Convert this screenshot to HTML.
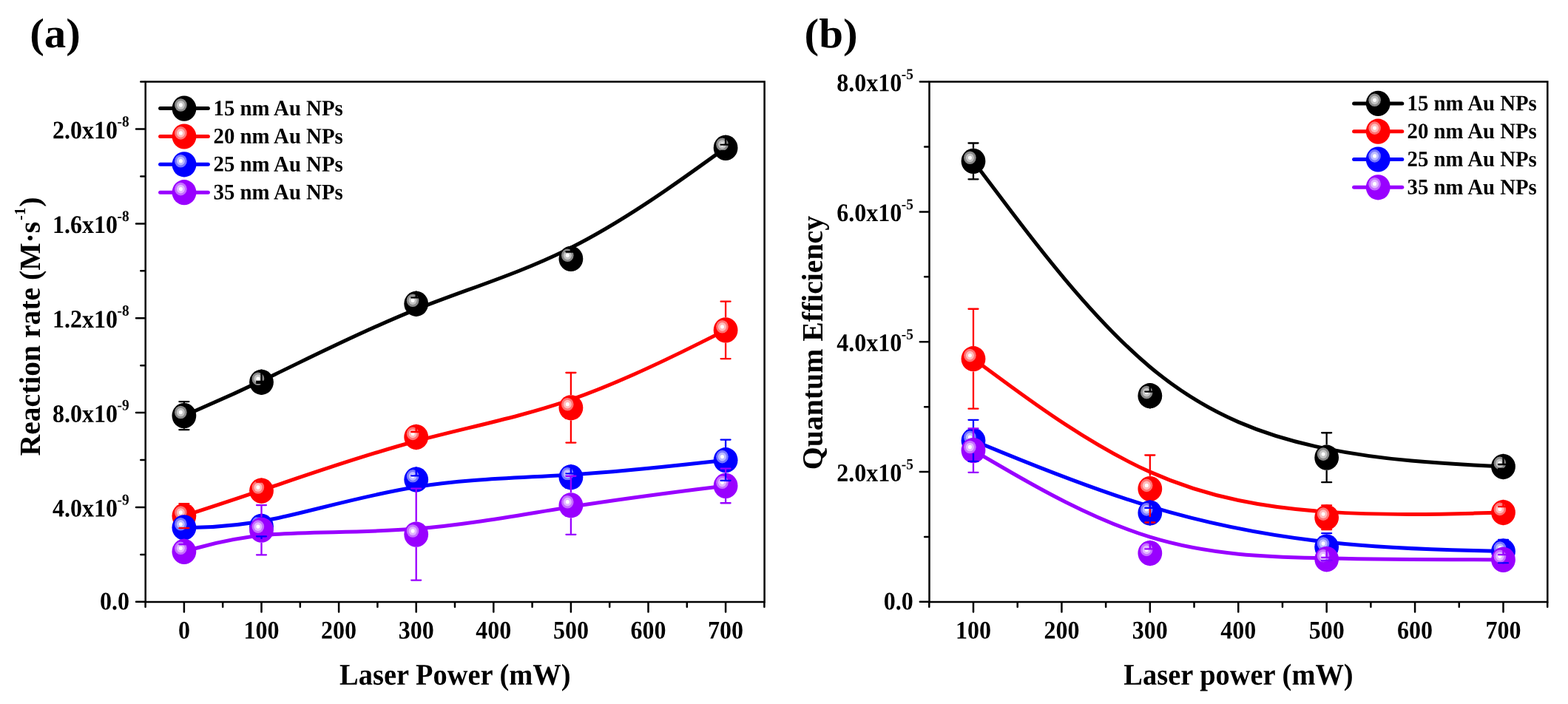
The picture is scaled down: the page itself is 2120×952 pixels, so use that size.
<!DOCTYPE html>
<html lang="en"><head><meta charset="utf-8"><title>Reaction rate and quantum efficiency vs laser power</title>
<style>html,body{margin:0;padding:0;background:#fff}body{width:2120px;height:952px;overflow:hidden}svg{display:block}</style>
</head><body>
<svg width="2120" height="952" viewBox="0 0 2120 952" font-family='"Liberation Serif", "DejaVu Serif", serif' font-weight="bold" fill="#000">
<rect width="2120" height="952" fill="#fff"/>
<g stroke="#000" stroke-width="2.5" stroke-linecap="round" fill="none">
<path d="M196.7 110.6H1033.6V814H196.7Z" stroke-linejoin="miter"/>
<path d="M248.9 815v12.4M353.5 815v12.4M458.1 815v12.4M562.7 815v12.4M667.3 815v12.4M771.9 815v12.4M876.5 815v12.4M981.1 815v12.4M196.6 815v5.8M301.2 815v5.8M405.8 815v5.8M510.4 815v5.8M615 815v5.8M719.6 815v5.8M824.2 815v5.8M928.8 815v5.8M1033.4 815v5.8M195.7 813.85h-11.7M195.7 685.99h-11.7M195.7 558.12h-11.7M195.7 430.26h-11.7M195.7 302.39h-11.7M195.7 174.53h-11.7M195.7 749.92h-5.4M195.7 622.05h-5.4M195.7 494.19h-5.4M195.7 366.33h-5.4M195.7 238.46h-5.4M195.7 110.6h-5.4"/>
</g>
<text transform="translate(248.9 863.6) rotate(0.03) scale(1 1.07)" font-size="32" text-anchor="middle">0</text>
<text transform="translate(353.5 863.6) rotate(0.03) scale(1 1.07)" font-size="32" text-anchor="middle">100</text>
<text transform="translate(458.1 863.6) rotate(0.03) scale(1 1.07)" font-size="32" text-anchor="middle">200</text>
<text transform="translate(562.7 863.6) rotate(0.03) scale(1 1.07)" font-size="32" text-anchor="middle">300</text>
<text transform="translate(667.3 863.6) rotate(0.03) scale(1 1.07)" font-size="32" text-anchor="middle">400</text>
<text transform="translate(771.9 863.6) rotate(0.03) scale(1 1.07)" font-size="32" text-anchor="middle">500</text>
<text transform="translate(876.5 863.6) rotate(0.03) scale(1 1.07)" font-size="32" text-anchor="middle">600</text>
<text transform="translate(981.1 863.6) rotate(0.03) scale(1 1.07)" font-size="32" text-anchor="middle">700</text>
<text transform="translate(175 824.15) rotate(0.03) scale(1 1.07)" font-size="32" text-anchor="end">0.0</text>
<text transform="translate(174.58 698.64) rotate(0.03) scale(1 1.07)" font-size="32" text-anchor="end">4.0x10<tspan font-size="19.3" dx="-0.5" dy="-15.09">-9</tspan></text>
<text transform="translate(174.58 570.77) rotate(0.03) scale(1 1.07)" font-size="32" text-anchor="end">8.0x10<tspan font-size="19.3" dx="-0.5" dy="-15.09">-9</tspan></text>
<text transform="translate(174.58 442.91) rotate(0.03) scale(1 1.07)" font-size="32" text-anchor="end">1.2x10<tspan font-size="19.3" dx="-0.5" dy="-15.09">-8</tspan></text>
<text transform="translate(174.58 315.04) rotate(0.03) scale(1 1.07)" font-size="32" text-anchor="end">1.6x10<tspan font-size="19.3" dx="-0.5" dy="-15.09">-8</tspan></text>
<text transform="translate(174.58 187.18) rotate(0.03) scale(1 1.07)" font-size="32" text-anchor="end">2.0x10<tspan font-size="19.3" dx="-0.5" dy="-15.09">-8</tspan></text>
<path d="M248.9 562.1C248.9 562.1 248.9 562.1 266.33 554.55C283.77 547 318.63 531.9 370.93 506.68C423.23 481.47 492.97 446.13 562.7 418.32C632.43 390.5 702.17 370.2 771.9 335.05C841.63 299.9 911.37 249.9 946.23 224.9C981.1 199.9 981.1 199.9 981.1 199.9" stroke="#000000" stroke-width="5.0" fill="none" stroke-linecap="round"/>
<ellipse cx="248.9" cy="562.1" rx="16.4" ry="17.1" fill="#000000"/>
<ellipse cx="244.3" cy="557.5" rx="8.3" ry="8.8" fill="#8a8a8a"/>
<ellipse cx="244.3" cy="557.5" rx="5.5" ry="5.85" fill="#c4c4c4"/>
<ellipse cx="244.3" cy="557.5" rx="2.5" ry="2.65" fill="#ffffff"/>
<ellipse cx="353.5" cy="516.8" rx="16.4" ry="17.1" fill="#000000"/>
<ellipse cx="348.9" cy="512.2" rx="8.3" ry="8.8" fill="#8a8a8a"/>
<ellipse cx="348.9" cy="512.2" rx="5.5" ry="5.85" fill="#c4c4c4"/>
<ellipse cx="348.9" cy="512.2" rx="2.5" ry="2.65" fill="#ffffff"/>
<ellipse cx="562.7" cy="410.8" rx="16.4" ry="17.1" fill="#000000"/>
<ellipse cx="558.1" cy="406.2" rx="8.3" ry="8.8" fill="#8a8a8a"/>
<ellipse cx="558.1" cy="406.2" rx="5.5" ry="5.85" fill="#c4c4c4"/>
<ellipse cx="558.1" cy="406.2" rx="2.5" ry="2.65" fill="#ffffff"/>
<ellipse cx="771.9" cy="349.9" rx="16.4" ry="17.1" fill="#000000"/>
<ellipse cx="767.3" cy="345.3" rx="8.3" ry="8.8" fill="#8a8a8a"/>
<ellipse cx="767.3" cy="345.3" rx="5.5" ry="5.85" fill="#c4c4c4"/>
<ellipse cx="767.3" cy="345.3" rx="2.5" ry="2.65" fill="#ffffff"/>
<ellipse cx="981.1" cy="199.9" rx="16.4" ry="17.1" fill="#000000"/>
<ellipse cx="976.5" cy="195.3" rx="8.3" ry="8.8" fill="#8a8a8a"/>
<ellipse cx="976.5" cy="195.3" rx="5.5" ry="5.85" fill="#c4c4c4"/>
<ellipse cx="976.5" cy="195.3" rx="2.5" ry="2.65" fill="#ffffff"/>
<path d="M248.9 697.6C248.9 697.6 248.9 697.6 266.33 691.93C283.77 686.27 318.63 674.93 370.93 657.17C423.23 639.4 492.97 615.2 562.7 596.48C632.43 577.77 702.17 564.53 771.9 540.43C841.63 516.33 911.37 481.37 946.23 463.88C981.1 446.4 981.1 446.4 981.1 446.4" stroke="#ff0000" stroke-width="5.0" fill="none" stroke-linecap="round"/>
<ellipse cx="248.9" cy="697.6" rx="16.4" ry="17.1" fill="#ff0000"/>
<ellipse cx="244.3" cy="693" rx="8.3" ry="8.8" fill="#ff7474"/>
<ellipse cx="244.3" cy="693" rx="5.5" ry="5.85" fill="#ffbcbc"/>
<ellipse cx="244.3" cy="693" rx="2.5" ry="2.65" fill="#ffffff"/>
<ellipse cx="353.5" cy="663.6" rx="16.4" ry="17.1" fill="#ff0000"/>
<ellipse cx="348.9" cy="659" rx="8.3" ry="8.8" fill="#ff7474"/>
<ellipse cx="348.9" cy="659" rx="5.5" ry="5.85" fill="#ffbcbc"/>
<ellipse cx="348.9" cy="659" rx="2.5" ry="2.65" fill="#ffffff"/>
<ellipse cx="562.7" cy="591" rx="16.4" ry="17.1" fill="#ff0000"/>
<ellipse cx="558.1" cy="586.4" rx="8.3" ry="8.8" fill="#ff7474"/>
<ellipse cx="558.1" cy="586.4" rx="5.5" ry="5.85" fill="#ffbcbc"/>
<ellipse cx="558.1" cy="586.4" rx="2.5" ry="2.65" fill="#ffffff"/>
<ellipse cx="771.9" cy="551.3" rx="16.4" ry="17.1" fill="#ff0000"/>
<ellipse cx="767.3" cy="546.7" rx="8.3" ry="8.8" fill="#ff7474"/>
<ellipse cx="767.3" cy="546.7" rx="5.5" ry="5.85" fill="#ffbcbc"/>
<ellipse cx="767.3" cy="546.7" rx="2.5" ry="2.65" fill="#ffffff"/>
<ellipse cx="981.1" cy="446.4" rx="16.4" ry="17.1" fill="#ff0000"/>
<ellipse cx="976.5" cy="441.8" rx="8.3" ry="8.8" fill="#ff7474"/>
<ellipse cx="976.5" cy="441.8" rx="5.5" ry="5.85" fill="#ffbcbc"/>
<ellipse cx="976.5" cy="441.8" rx="2.5" ry="2.65" fill="#ffffff"/>
<path d="M248.9 713.4C248.9 713.4 248.9 713.4 266.33 713.13C283.77 712.87 318.63 712.33 370.93 701.52C423.23 690.7 492.97 669.6 562.7 658.52C632.43 647.43 702.17 646.37 771.9 641.98C841.63 637.6 911.37 629.9 946.23 626.05C981.1 622.2 981.1 622.2 981.1 622.2" stroke="#0000ff" stroke-width="5.0" fill="none" stroke-linecap="round"/>
<ellipse cx="248.9" cy="713.4" rx="16.4" ry="17.1" fill="#0000ff"/>
<ellipse cx="244.3" cy="708.8" rx="8.3" ry="8.8" fill="#7878ff"/>
<ellipse cx="244.3" cy="708.8" rx="5.5" ry="5.85" fill="#bcbcff"/>
<ellipse cx="244.3" cy="708.8" rx="2.5" ry="2.65" fill="#ffffff"/>
<ellipse cx="353.5" cy="711.8" rx="16.4" ry="17.1" fill="#0000ff"/>
<ellipse cx="348.9" cy="707.2" rx="8.3" ry="8.8" fill="#7878ff"/>
<ellipse cx="348.9" cy="707.2" rx="5.5" ry="5.85" fill="#bcbcff"/>
<ellipse cx="348.9" cy="707.2" rx="2.5" ry="2.65" fill="#ffffff"/>
<ellipse cx="562.7" cy="648.5" rx="16.4" ry="17.1" fill="#0000ff"/>
<ellipse cx="558.1" cy="643.9" rx="8.3" ry="8.8" fill="#7878ff"/>
<ellipse cx="558.1" cy="643.9" rx="5.5" ry="5.85" fill="#bcbcff"/>
<ellipse cx="558.1" cy="643.9" rx="2.5" ry="2.65" fill="#ffffff"/>
<ellipse cx="771.9" cy="645.3" rx="16.4" ry="17.1" fill="#0000ff"/>
<ellipse cx="767.3" cy="640.7" rx="8.3" ry="8.8" fill="#7878ff"/>
<ellipse cx="767.3" cy="640.7" rx="5.5" ry="5.85" fill="#bcbcff"/>
<ellipse cx="767.3" cy="640.7" rx="2.5" ry="2.65" fill="#ffffff"/>
<ellipse cx="981.1" cy="622.2" rx="16.4" ry="17.1" fill="#0000ff"/>
<ellipse cx="976.5" cy="617.6" rx="8.3" ry="8.8" fill="#7878ff"/>
<ellipse cx="976.5" cy="617.6" rx="5.5" ry="5.85" fill="#bcbcff"/>
<ellipse cx="976.5" cy="617.6" rx="2.5" ry="2.65" fill="#ffffff"/>
<path d="M248.9 745.9C248.9 745.9 248.9 745.9 266.33 741.03C283.77 736.17 318.63 726.43 370.93 722.55C423.23 718.67 492.97 720.63 562.7 715.07C632.43 709.5 702.17 696.4 771.9 685.45C841.63 674.5 911.37 665.7 946.23 661.3C981.1 656.9 981.1 656.9 981.1 656.9" stroke="#9900ff" stroke-width="5.0" fill="none" stroke-linecap="round"/>
<ellipse cx="248.9" cy="745.9" rx="16.4" ry="17.1" fill="#9900ff"/>
<ellipse cx="244.3" cy="741.3" rx="8.3" ry="8.8" fill="#c670ff"/>
<ellipse cx="244.3" cy="741.3" rx="5.5" ry="5.85" fill="#e2b8ff"/>
<ellipse cx="244.3" cy="741.3" rx="2.5" ry="2.65" fill="#ffffff"/>
<ellipse cx="353.5" cy="716.7" rx="16.4" ry="17.1" fill="#9900ff"/>
<ellipse cx="348.9" cy="712.1" rx="8.3" ry="8.8" fill="#c670ff"/>
<ellipse cx="348.9" cy="712.1" rx="5.5" ry="5.85" fill="#e2b8ff"/>
<ellipse cx="348.9" cy="712.1" rx="2.5" ry="2.65" fill="#ffffff"/>
<ellipse cx="562.7" cy="722.6" rx="16.4" ry="17.1" fill="#9900ff"/>
<ellipse cx="558.1" cy="718" rx="8.3" ry="8.8" fill="#c670ff"/>
<ellipse cx="558.1" cy="718" rx="5.5" ry="5.85" fill="#e2b8ff"/>
<ellipse cx="558.1" cy="718" rx="2.5" ry="2.65" fill="#ffffff"/>
<ellipse cx="771.9" cy="683.3" rx="16.4" ry="17.1" fill="#9900ff"/>
<ellipse cx="767.3" cy="678.7" rx="8.3" ry="8.8" fill="#c670ff"/>
<ellipse cx="767.3" cy="678.7" rx="5.5" ry="5.85" fill="#e2b8ff"/>
<ellipse cx="767.3" cy="678.7" rx="2.5" ry="2.65" fill="#ffffff"/>
<ellipse cx="981.1" cy="656.9" rx="16.4" ry="17.1" fill="#9900ff"/>
<ellipse cx="976.5" cy="652.3" rx="8.3" ry="8.8" fill="#c670ff"/>
<ellipse cx="976.5" cy="652.3" rx="5.5" ry="5.85" fill="#e2b8ff"/>
<ellipse cx="976.5" cy="652.3" rx="2.5" ry="2.65" fill="#ffffff"/>
<path d="M242.4 543.05H255.4M242.4 581.15H255.4" stroke="#000000" stroke-width="2.3" fill="none" stroke-linecap="round"/>
<path d="M248.9 543.05V544.9M248.9 581.15V579.3" stroke="#000000" stroke-width="2.3" fill="none"/>
<path d="M347 515.8H360M347 517.8H360" stroke="#000000" stroke-width="2.3" fill="none" stroke-linecap="round"/>
<path d="M353.5 515.8V499.6M353.5 517.8V534" stroke="#000000" stroke-width="2.3" fill="none"/>
<path d="M556.2 402.4H569.2M556.2 419.2H569.2" stroke="#000000" stroke-width="2.3" fill="none" stroke-linecap="round"/>
<path d="M562.7 402.4V393.6M562.7 419.2V428" stroke="#000000" stroke-width="2.3" fill="none"/>
<path d="M765.4 340.5H778.4M765.4 359.3H778.4" stroke="#000000" stroke-width="2.3" fill="none" stroke-linecap="round"/>
<path d="M771.9 340.5V332.7M771.9 359.3V367.1" stroke="#000000" stroke-width="2.3" fill="none"/>
<path d="M974.6 195.7H987.6M974.6 204.1H987.6" stroke="#000000" stroke-width="2.3" fill="none" stroke-linecap="round"/>
<path d="M981.1 195.7V182.7M981.1 204.1V217.1" stroke="#000000" stroke-width="2.3" fill="none"/>
<path d="M242.4 681.1H255.4M242.4 714.1H255.4" stroke="#ff0000" stroke-width="2.3" fill="none" stroke-linecap="round"/>
<path d="M248.9 681.1V680.4M248.9 714.1V714.8" stroke="#ff0000" stroke-width="2.3" fill="none"/>
<path d="M347 651.6H360M347 675.6H360" stroke="#ff0000" stroke-width="2.3" fill="none" stroke-linecap="round"/>
<path d="M353.5 651.6V646.4M353.5 675.6V680.8" stroke="#ff0000" stroke-width="2.3" fill="none"/>
<path d="M556.2 584H569.2M556.2 598H569.2" stroke="#ff0000" stroke-width="2.3" fill="none" stroke-linecap="round"/>
<path d="M562.7 584V573.8M562.7 598V608.2" stroke="#ff0000" stroke-width="2.3" fill="none"/>
<path d="M765.4 504H778.4M765.4 598.6H778.4" stroke="#ff0000" stroke-width="2.3" fill="none" stroke-linecap="round"/>
<path d="M771.9 504V534.1M771.9 598.6V568.5" stroke="#ff0000" stroke-width="2.3" fill="none"/>
<path d="M974.6 407.7H987.6M974.6 485.1H987.6" stroke="#ff0000" stroke-width="2.3" fill="none" stroke-linecap="round"/>
<path d="M981.1 407.7V429.2M981.1 485.1V463.6" stroke="#ff0000" stroke-width="2.3" fill="none"/>
<path d="M347 698.3H360M347 725.3H360" stroke="#0000ff" stroke-width="2.3" fill="none" stroke-linecap="round"/>
<path d="M353.5 698.3V694.6M353.5 725.3V729" stroke="#0000ff" stroke-width="2.3" fill="none"/>
<path d="M556.2 643.3H569.2M556.2 653.7H569.2" stroke="#0000ff" stroke-width="2.3" fill="none" stroke-linecap="round"/>
<path d="M562.7 643.3V631.3M562.7 653.7V665.7" stroke="#0000ff" stroke-width="2.3" fill="none"/>
<path d="M765.4 640.3H778.4M765.4 650.3H778.4" stroke="#0000ff" stroke-width="2.3" fill="none" stroke-linecap="round"/>
<path d="M771.9 640.3V628.1M771.9 650.3V662.5" stroke="#0000ff" stroke-width="2.3" fill="none"/>
<path d="M974.6 594.6H987.6M974.6 649.8H987.6" stroke="#0000ff" stroke-width="2.3" fill="none" stroke-linecap="round"/>
<path d="M981.1 594.6V605M981.1 649.8V639.4" stroke="#0000ff" stroke-width="2.3" fill="none"/>
<path d="M242.4 736.2H255.4M242.4 755.6H255.4" stroke="#9900ff" stroke-width="2.3" fill="none" stroke-linecap="round"/>
<path d="M248.9 736.2V728.7M248.9 755.6V763.1" stroke="#9900ff" stroke-width="2.3" fill="none"/>
<path d="M347 683.05H360M347 750.35H360" stroke="#9900ff" stroke-width="2.3" fill="none" stroke-linecap="round"/>
<path d="M353.5 683.05V699.5M353.5 750.35V733.9" stroke="#9900ff" stroke-width="2.3" fill="none"/>
<path d="M556.2 660.6H569.2M556.2 784.6H569.2" stroke="#9900ff" stroke-width="2.3" fill="none" stroke-linecap="round"/>
<path d="M562.7 660.6V705.4M562.7 784.6V739.8" stroke="#9900ff" stroke-width="2.3" fill="none"/>
<path d="M765.4 643.75H778.4M765.4 722.85H778.4" stroke="#9900ff" stroke-width="2.3" fill="none" stroke-linecap="round"/>
<path d="M771.9 643.75V666.1M771.9 722.85V700.5" stroke="#9900ff" stroke-width="2.3" fill="none"/>
<path d="M974.6 633.55H987.6M974.6 680.25H987.6" stroke="#9900ff" stroke-width="2.3" fill="none" stroke-linecap="round"/>
<path d="M981.1 633.55V639.7M981.1 680.25V674.1" stroke="#9900ff" stroke-width="2.3" fill="none"/>
<path d="M216.6 146.6H281.4" stroke="#000000" stroke-width="5.0" stroke-linecap="round"/>
<ellipse cx="249" cy="146.6" rx="16.4" ry="17.1" fill="#000000"/>
<ellipse cx="244.4" cy="142" rx="8.3" ry="8.8" fill="#8a8a8a"/>
<ellipse cx="244.4" cy="142" rx="5.5" ry="5.85" fill="#c4c4c4"/>
<ellipse cx="244.4" cy="142" rx="2.5" ry="2.65" fill="#ffffff"/>
<text transform="translate(288.5 155.9) rotate(0.03) scale(1 1.035)" font-size="28.8" text-anchor="start">15 nm Au NPs</text>
<path d="M216.6 184.5H281.4" stroke="#ff0000" stroke-width="5.0" stroke-linecap="round"/>
<ellipse cx="249" cy="184.5" rx="16.4" ry="17.1" fill="#ff0000"/>
<ellipse cx="244.4" cy="179.9" rx="8.3" ry="8.8" fill="#ff7474"/>
<ellipse cx="244.4" cy="179.9" rx="5.5" ry="5.85" fill="#ffbcbc"/>
<ellipse cx="244.4" cy="179.9" rx="2.5" ry="2.65" fill="#ffffff"/>
<text transform="translate(288.5 193.8) rotate(0.03) scale(1 1.035)" font-size="28.8" text-anchor="start">20 nm Au NPs</text>
<path d="M216.6 222.3H281.4" stroke="#0000ff" stroke-width="5.0" stroke-linecap="round"/>
<ellipse cx="249" cy="222.3" rx="16.4" ry="17.1" fill="#0000ff"/>
<ellipse cx="244.4" cy="217.7" rx="8.3" ry="8.8" fill="#7878ff"/>
<ellipse cx="244.4" cy="217.7" rx="5.5" ry="5.85" fill="#bcbcff"/>
<ellipse cx="244.4" cy="217.7" rx="2.5" ry="2.65" fill="#ffffff"/>
<text transform="translate(288.5 231.6) rotate(0.03) scale(1 1.035)" font-size="28.8" text-anchor="start">25 nm Au NPs</text>
<path d="M216.6 260.2H281.4" stroke="#9900ff" stroke-width="5.0" stroke-linecap="round"/>
<ellipse cx="249" cy="260.2" rx="16.4" ry="17.1" fill="#9900ff"/>
<ellipse cx="244.4" cy="255.6" rx="8.3" ry="8.8" fill="#c670ff"/>
<ellipse cx="244.4" cy="255.6" rx="5.5" ry="5.85" fill="#e2b8ff"/>
<ellipse cx="244.4" cy="255.6" rx="2.5" ry="2.65" fill="#ffffff"/>
<text transform="translate(288.5 269.5) rotate(0.03) scale(1 1.035)" font-size="28.8" text-anchor="start">35 nm Au NPs</text>
<g stroke="#000" stroke-width="2.5" stroke-linecap="round" fill="none">
<path d="M1256.5 110.6H2092.3V814H1256.5Z" stroke-linejoin="miter"/>
<path d="M1316 815v12.4M1435.42 815v12.4M1554.83 815v12.4M1674.25 815v12.4M1793.67 815v12.4M1913.09 815v12.4M2032.5 815v12.4M1256.29 815v5.8M1375.71 815v5.8M1495.13 815v5.8M1614.54 815v5.8M1733.96 815v5.8M1853.38 815v5.8M1972.79 815v5.8M2092.21 815v5.8M1255.5 813.85h-11.7M1255.5 638.04h-11.7M1255.5 462.23h-11.7M1255.5 286.41h-11.7M1255.5 110.6h-11.7M1255.5 725.94h-5.4M1255.5 550.13h-5.4M1255.5 374.32h-5.4M1255.5 198.51h-5.4"/>
</g>
<text transform="translate(1316 863.6) rotate(0.03) scale(1 1.07)" font-size="32" text-anchor="middle">100</text>
<text transform="translate(1435.42 863.6) rotate(0.03) scale(1 1.07)" font-size="32" text-anchor="middle">200</text>
<text transform="translate(1554.83 863.6) rotate(0.03) scale(1 1.07)" font-size="32" text-anchor="middle">300</text>
<text transform="translate(1674.25 863.6) rotate(0.03) scale(1 1.07)" font-size="32" text-anchor="middle">400</text>
<text transform="translate(1793.67 863.6) rotate(0.03) scale(1 1.07)" font-size="32" text-anchor="middle">500</text>
<text transform="translate(1913.09 863.6) rotate(0.03) scale(1 1.07)" font-size="32" text-anchor="middle">600</text>
<text transform="translate(2032.5 863.6) rotate(0.03) scale(1 1.07)" font-size="32" text-anchor="middle">700</text>
<text transform="translate(1234.8 824.15) rotate(0.03) scale(1 1.07)" font-size="32" text-anchor="end">0.0</text>
<text transform="translate(1234.88 650.69) rotate(0.03) scale(1 1.07)" font-size="32" text-anchor="end">2.0x10<tspan font-size="19.3" dx="-0.5" dy="-15.09">-5</tspan></text>
<text transform="translate(1234.88 474.88) rotate(0.03) scale(1 1.07)" font-size="32" text-anchor="end">4.0x10<tspan font-size="19.3" dx="-0.5" dy="-15.09">-5</tspan></text>
<text transform="translate(1234.88 299.06) rotate(0.03) scale(1 1.07)" font-size="32" text-anchor="end">6.0x10<tspan font-size="19.3" dx="-0.5" dy="-15.09">-5</tspan></text>
<text transform="translate(1234.88 123.25) rotate(0.03) scale(1 1.07)" font-size="32" text-anchor="end">8.0x10<tspan font-size="19.3" dx="-0.5" dy="-15.09">-5</tspan></text>
<path d="M1316 217.9C1316 217.9 1316 217.9 1355.81 270.78C1395.61 323.67 1475.22 429.43 1554.83 496.23C1634.45 563.03 1714.06 590.87 1793.67 606.83C1873.28 622.8 1952.89 626.9 1992.7 628.95C2032.5 631 2032.5 631 2032.5 631" stroke="#000000" stroke-width="5.0" fill="none" stroke-linecap="round"/>
<ellipse cx="1316" cy="217.9" rx="16.4" ry="17.1" fill="#000000"/>
<ellipse cx="1311.4" cy="213.3" rx="8.3" ry="8.8" fill="#8a8a8a"/>
<ellipse cx="1311.4" cy="213.3" rx="5.5" ry="5.85" fill="#c4c4c4"/>
<ellipse cx="1311.4" cy="213.3" rx="2.5" ry="2.65" fill="#ffffff"/>
<ellipse cx="1554.83" cy="535.2" rx="16.4" ry="17.1" fill="#000000"/>
<ellipse cx="1550.23" cy="530.6" rx="8.3" ry="8.8" fill="#8a8a8a"/>
<ellipse cx="1550.23" cy="530.6" rx="5.5" ry="5.85" fill="#c4c4c4"/>
<ellipse cx="1550.23" cy="530.6" rx="2.5" ry="2.65" fill="#ffffff"/>
<ellipse cx="1793.67" cy="618.7" rx="16.4" ry="17.1" fill="#000000"/>
<ellipse cx="1789.07" cy="614.1" rx="8.3" ry="8.8" fill="#8a8a8a"/>
<ellipse cx="1789.07" cy="614.1" rx="5.5" ry="5.85" fill="#c4c4c4"/>
<ellipse cx="1789.07" cy="614.1" rx="2.5" ry="2.65" fill="#ffffff"/>
<ellipse cx="2032.5" cy="631" rx="16.4" ry="17.1" fill="#000000"/>
<ellipse cx="2027.9" cy="626.4" rx="8.3" ry="8.8" fill="#8a8a8a"/>
<ellipse cx="2027.9" cy="626.4" rx="5.5" ry="5.85" fill="#c4c4c4"/>
<ellipse cx="2027.9" cy="626.4" rx="2.5" ry="2.65" fill="#ffffff"/>
<path d="M1316 485.2C1316 485.2 1316 485.2 1355.81 514.5C1395.61 543.8 1475.22 602.4 1554.83 638.15C1634.45 673.9 1714.06 686.8 1793.67 692.13C1873.28 697.47 1952.89 695.23 1992.7 694.12C2032.5 693 2032.5 693 2032.5 693" stroke="#ff0000" stroke-width="5.0" fill="none" stroke-linecap="round"/>
<ellipse cx="1316" cy="485.2" rx="16.4" ry="17.1" fill="#ff0000"/>
<ellipse cx="1311.4" cy="480.6" rx="8.3" ry="8.8" fill="#ff7474"/>
<ellipse cx="1311.4" cy="480.6" rx="5.5" ry="5.85" fill="#ffbcbc"/>
<ellipse cx="1311.4" cy="480.6" rx="2.5" ry="2.65" fill="#ffffff"/>
<ellipse cx="1554.83" cy="661" rx="16.4" ry="17.1" fill="#ff0000"/>
<ellipse cx="1550.23" cy="656.4" rx="8.3" ry="8.8" fill="#ff7474"/>
<ellipse cx="1550.23" cy="656.4" rx="5.5" ry="5.85" fill="#ffbcbc"/>
<ellipse cx="1550.23" cy="656.4" rx="2.5" ry="2.65" fill="#ffffff"/>
<ellipse cx="1793.67" cy="699.7" rx="16.4" ry="17.1" fill="#ff0000"/>
<ellipse cx="1789.07" cy="695.1" rx="8.3" ry="8.8" fill="#ff7474"/>
<ellipse cx="1789.07" cy="695.1" rx="5.5" ry="5.85" fill="#ffbcbc"/>
<ellipse cx="1789.07" cy="695.1" rx="2.5" ry="2.65" fill="#ffffff"/>
<ellipse cx="2032.5" cy="693" rx="16.4" ry="17.1" fill="#ff0000"/>
<ellipse cx="2027.9" cy="688.4" rx="8.3" ry="8.8" fill="#ff7474"/>
<ellipse cx="2027.9" cy="688.4" rx="5.5" ry="5.85" fill="#ffbcbc"/>
<ellipse cx="2027.9" cy="688.4" rx="2.5" ry="2.65" fill="#ffffff"/>
<path d="M1316 595.8C1316 595.8 1316 595.8 1355.81 612.08C1395.61 628.37 1475.22 660.93 1554.83 684.9C1634.45 708.87 1714.06 724.23 1793.67 732.92C1873.28 741.6 1952.89 743.6 1992.7 744.6C2032.5 745.6 2032.5 745.6 2032.5 745.6" stroke="#0000ff" stroke-width="5.0" fill="none" stroke-linecap="round"/>
<ellipse cx="1316" cy="595.8" rx="16.4" ry="17.1" fill="#0000ff"/>
<ellipse cx="1311.4" cy="591.2" rx="8.3" ry="8.8" fill="#7878ff"/>
<ellipse cx="1311.4" cy="591.2" rx="5.5" ry="5.85" fill="#bcbcff"/>
<ellipse cx="1311.4" cy="591.2" rx="2.5" ry="2.65" fill="#ffffff"/>
<ellipse cx="1554.83" cy="693.5" rx="16.4" ry="17.1" fill="#0000ff"/>
<ellipse cx="1550.23" cy="688.9" rx="8.3" ry="8.8" fill="#7878ff"/>
<ellipse cx="1550.23" cy="688.9" rx="5.5" ry="5.85" fill="#bcbcff"/>
<ellipse cx="1550.23" cy="688.9" rx="2.5" ry="2.65" fill="#ffffff"/>
<ellipse cx="1793.67" cy="739.6" rx="16.4" ry="17.1" fill="#0000ff"/>
<ellipse cx="1789.07" cy="735" rx="8.3" ry="8.8" fill="#7878ff"/>
<ellipse cx="1789.07" cy="735" rx="5.5" ry="5.85" fill="#bcbcff"/>
<ellipse cx="1789.07" cy="735" rx="2.5" ry="2.65" fill="#ffffff"/>
<ellipse cx="2032.5" cy="745.6" rx="16.4" ry="17.1" fill="#0000ff"/>
<ellipse cx="2027.9" cy="741" rx="8.3" ry="8.8" fill="#7878ff"/>
<ellipse cx="2027.9" cy="741" rx="5.5" ry="5.85" fill="#bcbcff"/>
<ellipse cx="2027.9" cy="741" rx="2.5" ry="2.65" fill="#ffffff"/>
<path d="M1316 609.1C1316 609.1 1316 609.1 1355.81 632.25C1395.61 655.4 1475.22 701.7 1554.83 726.2C1634.45 750.7 1714.06 753.4 1793.67 754.88C1873.28 756.37 1952.89 756.63 1992.7 756.77C2032.5 756.9 2032.5 756.9 2032.5 756.9" stroke="#9900ff" stroke-width="5.0" fill="none" stroke-linecap="round"/>
<ellipse cx="1316" cy="609.1" rx="16.4" ry="17.1" fill="#9900ff"/>
<ellipse cx="1311.4" cy="604.5" rx="8.3" ry="8.8" fill="#c670ff"/>
<ellipse cx="1311.4" cy="604.5" rx="5.5" ry="5.85" fill="#e2b8ff"/>
<ellipse cx="1311.4" cy="604.5" rx="2.5" ry="2.65" fill="#ffffff"/>
<ellipse cx="1554.83" cy="748" rx="16.4" ry="17.1" fill="#9900ff"/>
<ellipse cx="1550.23" cy="743.4" rx="8.3" ry="8.8" fill="#c670ff"/>
<ellipse cx="1550.23" cy="743.4" rx="5.5" ry="5.85" fill="#e2b8ff"/>
<ellipse cx="1550.23" cy="743.4" rx="2.5" ry="2.65" fill="#ffffff"/>
<ellipse cx="1793.67" cy="756.1" rx="16.4" ry="17.1" fill="#9900ff"/>
<ellipse cx="1789.07" cy="751.5" rx="8.3" ry="8.8" fill="#c670ff"/>
<ellipse cx="1789.07" cy="751.5" rx="5.5" ry="5.85" fill="#e2b8ff"/>
<ellipse cx="1789.07" cy="751.5" rx="2.5" ry="2.65" fill="#ffffff"/>
<ellipse cx="2032.5" cy="756.9" rx="16.4" ry="17.1" fill="#9900ff"/>
<ellipse cx="2027.9" cy="752.3" rx="8.3" ry="8.8" fill="#c670ff"/>
<ellipse cx="2027.9" cy="752.3" rx="5.5" ry="5.85" fill="#e2b8ff"/>
<ellipse cx="2027.9" cy="752.3" rx="2.5" ry="2.65" fill="#ffffff"/>
<path d="M1309.5 193.5H1322.5M1309.5 242.3H1322.5" stroke="#000000" stroke-width="2.3" fill="none" stroke-linecap="round"/>
<path d="M1316 193.5V200.7M1316 242.3V235.1" stroke="#000000" stroke-width="2.3" fill="none"/>
<path d="M1548.33 529.6H1561.33M1548.33 540.8H1561.33" stroke="#000000" stroke-width="2.3" fill="none" stroke-linecap="round"/>
<path d="M1554.83 529.6V518M1554.83 540.8V552.4" stroke="#000000" stroke-width="2.3" fill="none"/>
<path d="M1787.17 585.25H1800.17M1787.17 652.15H1800.17" stroke="#000000" stroke-width="2.3" fill="none" stroke-linecap="round"/>
<path d="M1793.67 585.25V601.5M1793.67 652.15V635.9" stroke="#000000" stroke-width="2.3" fill="none"/>
<path d="M2026 628H2039M2026 634H2039" stroke="#000000" stroke-width="2.3" fill="none" stroke-linecap="round"/>
<path d="M2032.5 628V613.8M2032.5 634V648.2" stroke="#000000" stroke-width="2.3" fill="none"/>
<path d="M1309.5 417.75H1322.5M1309.5 552.65H1322.5" stroke="#ff0000" stroke-width="2.3" fill="none" stroke-linecap="round"/>
<path d="M1316 417.75V468M1316 552.65V502.4" stroke="#ff0000" stroke-width="2.3" fill="none"/>
<path d="M1548.33 615.5H1561.33M1548.33 706.5H1561.33" stroke="#ff0000" stroke-width="2.3" fill="none" stroke-linecap="round"/>
<path d="M1554.83 615.5V643.8M1554.83 706.5V678.2" stroke="#ff0000" stroke-width="2.3" fill="none"/>
<path d="M1787.17 683.3H1800.17M1787.17 716.1H1800.17" stroke="#ff0000" stroke-width="2.3" fill="none" stroke-linecap="round"/>
<path d="M1793.67 683.3V682.5M1793.67 716.1V716.9" stroke="#ff0000" stroke-width="2.3" fill="none"/>
<path d="M2026 685H2039M2026 701H2039" stroke="#ff0000" stroke-width="2.3" fill="none" stroke-linecap="round"/>
<path d="M2032.5 685V675.8M2032.5 701V710.2" stroke="#ff0000" stroke-width="2.3" fill="none"/>
<path d="M1309.5 567.8H1322.5M1309.5 623.8H1322.5" stroke="#0000ff" stroke-width="2.3" fill="none" stroke-linecap="round"/>
<path d="M1316 567.8V578.6M1316 623.8V613" stroke="#0000ff" stroke-width="2.3" fill="none"/>
<path d="M1548.33 686.9H1561.33M1548.33 700.1H1561.33" stroke="#0000ff" stroke-width="2.3" fill="none" stroke-linecap="round"/>
<path d="M1554.83 686.9V676.3M1554.83 700.1V710.7" stroke="#0000ff" stroke-width="2.3" fill="none"/>
<path d="M1787.17 721.1H1800.17M1787.17 758.1H1800.17" stroke="#0000ff" stroke-width="2.3" fill="none" stroke-linecap="round"/>
<path d="M1793.67 721.1V722.4M1793.67 758.1V756.8" stroke="#0000ff" stroke-width="2.3" fill="none"/>
<path d="M2026 729.9H2039M2026 761.3H2039" stroke="#0000ff" stroke-width="2.3" fill="none" stroke-linecap="round"/>
<path d="M2032.5 729.9V728.4M2032.5 761.3V762.8" stroke="#0000ff" stroke-width="2.3" fill="none"/>
<path d="M1309.5 579.4H1322.5M1309.5 638.8H1322.5" stroke="#9900ff" stroke-width="2.3" fill="none" stroke-linecap="round"/>
<path d="M1316 579.4V591.9M1316 638.8V626.3" stroke="#9900ff" stroke-width="2.3" fill="none"/>
<path d="M1548.33 742.3H1561.33M1548.33 753.7H1561.33" stroke="#9900ff" stroke-width="2.3" fill="none" stroke-linecap="round"/>
<path d="M1554.83 742.3V730.8M1554.83 753.7V765.2" stroke="#9900ff" stroke-width="2.3" fill="none"/>
<path d="M1787.17 753.8H1800.17M1787.17 758.4H1800.17" stroke="#9900ff" stroke-width="2.3" fill="none" stroke-linecap="round"/>
<path d="M1793.67 753.8V738.9M1793.67 758.4V773.3" stroke="#9900ff" stroke-width="2.3" fill="none"/>
<path d="M2026 750.1H2039M2026 763.7H2039" stroke="#9900ff" stroke-width="2.3" fill="none" stroke-linecap="round"/>
<path d="M2032.5 750.1V739.7M2032.5 763.7V774.1" stroke="#9900ff" stroke-width="2.3" fill="none"/>
<path d="M1830.6 139.9H1895.8" stroke="#000000" stroke-width="5.0" stroke-linecap="round"/>
<ellipse cx="1863.2" cy="139.9" rx="16.4" ry="17.1" fill="#000000"/>
<ellipse cx="1858.6" cy="135.3" rx="8.3" ry="8.8" fill="#8a8a8a"/>
<ellipse cx="1858.6" cy="135.3" rx="5.5" ry="5.85" fill="#c4c4c4"/>
<ellipse cx="1858.6" cy="135.3" rx="2.5" ry="2.65" fill="#ffffff"/>
<text transform="translate(1902.6 149.2) rotate(0.03) scale(1 1.035)" font-size="28.8" text-anchor="start">15 nm Au NPs</text>
<path d="M1830.6 177.7H1895.8" stroke="#ff0000" stroke-width="5.0" stroke-linecap="round"/>
<ellipse cx="1863.2" cy="177.7" rx="16.4" ry="17.1" fill="#ff0000"/>
<ellipse cx="1858.6" cy="173.1" rx="8.3" ry="8.8" fill="#ff7474"/>
<ellipse cx="1858.6" cy="173.1" rx="5.5" ry="5.85" fill="#ffbcbc"/>
<ellipse cx="1858.6" cy="173.1" rx="2.5" ry="2.65" fill="#ffffff"/>
<text transform="translate(1902.6 187) rotate(0.03) scale(1 1.035)" font-size="28.8" text-anchor="start">20 nm Au NPs</text>
<path d="M1830.6 215.5H1895.8" stroke="#0000ff" stroke-width="5.0" stroke-linecap="round"/>
<ellipse cx="1863.2" cy="215.5" rx="16.4" ry="17.1" fill="#0000ff"/>
<ellipse cx="1858.6" cy="210.9" rx="8.3" ry="8.8" fill="#7878ff"/>
<ellipse cx="1858.6" cy="210.9" rx="5.5" ry="5.85" fill="#bcbcff"/>
<ellipse cx="1858.6" cy="210.9" rx="2.5" ry="2.65" fill="#ffffff"/>
<text transform="translate(1902.6 224.8) rotate(0.03) scale(1 1.035)" font-size="28.8" text-anchor="start">25 nm Au NPs</text>
<path d="M1830.6 253.3H1895.8" stroke="#9900ff" stroke-width="5.0" stroke-linecap="round"/>
<ellipse cx="1863.2" cy="253.3" rx="16.4" ry="17.1" fill="#9900ff"/>
<ellipse cx="1858.6" cy="248.7" rx="8.3" ry="8.8" fill="#c670ff"/>
<ellipse cx="1858.6" cy="248.7" rx="5.5" ry="5.85" fill="#e2b8ff"/>
<ellipse cx="1858.6" cy="248.7" rx="2.5" ry="2.65" fill="#ffffff"/>
<text transform="translate(1902.6 262.6) rotate(0.03) scale(1 1.035)" font-size="28.8" text-anchor="start">35 nm Au NPs</text>
<text transform="translate(40.2 64) rotate(0.03) scale(1 0.96)" font-size="58.9" text-anchor="start">(a)</text>
<text transform="translate(1087.6 64.2) rotate(0.03) scale(1 0.96)" font-size="58.9" text-anchor="start">(b)</text>
<text transform="translate(615.3 925.8) rotate(0.03) scale(1 1.055)" font-size="38.45" text-anchor="middle">Laser Power (mW)</text>
<text transform="translate(1674.5 925.8) rotate(0.03) scale(1 1.055)" font-size="38.45" text-anchor="middle">Laser power (mW)</text>
<text transform="translate(54 616.4) rotate(-90) scale(1 1.03)" font-size="39.6" text-anchor="start">Reaction rate (M·s<tspan font-size="20.6" dx="1.82" dy="-19.13">-1</tspan><tspan dx="1.14" dy="19.13">)</tspan></text>
<text transform="translate(1111.6 635.2) rotate(-90) scale(1 1.03)" font-size="39.75" text-anchor="start">Quantum Efficiency</text>
</svg>
</body></html>
